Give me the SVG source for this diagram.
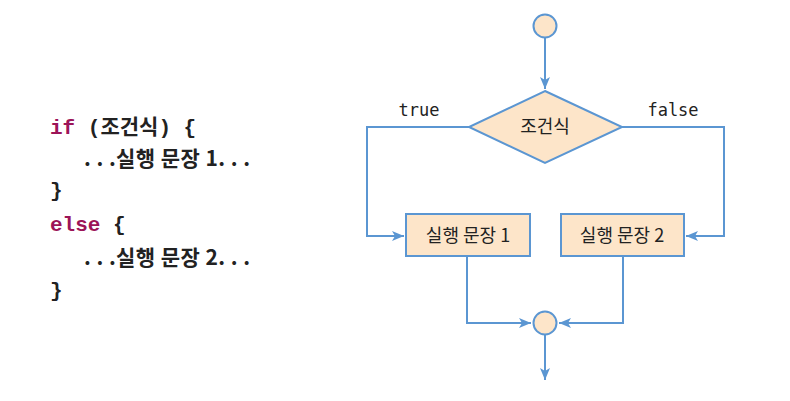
<svg xmlns="http://www.w3.org/2000/svg" width="790" height="401" viewBox="0 0 790 401">
<style>
.code{font-family:"Liberation Mono","Noto Sans CJK KR",monospace;font-size:21px;font-weight:bold;fill:#222}
.kr{font-family:"Noto Sans CJK KR","Noto Sans",sans-serif;font-size:21px;font-weight:bold;fill:#222}
.kw{fill:#9c1458}
.node{fill:#fde5c9;stroke:#5b96d2;stroke-width:2}
.lbl{font-family:"Noto Sans CJK KR","Noto Sans",sans-serif;font-size:18px;fill:#222;text-anchor:middle}
.mono{font-family:"DejaVu Sans Mono","Liberation Mono",monospace;font-size:17px;fill:#222}
.edge{fill:none;stroke:#5b96d2;stroke-width:2}
</style>
<defs>
<marker id="ah" viewBox="0 0 12 10" refX="12" refY="5" markerWidth="12" markerHeight="10" markerUnits="userSpaceOnUse" orient="auto">
<path d="M0,0 L12,5 L0,10 L3,5 Z" fill="#5b96d2"/>
</marker>
</defs>
<g id="code">
<text class="code" x="50" y="134"><tspan class="kw">if</tspan> (조건식) {</text>
<text class="kr" x="84" y="166" textLength="166">. . .실행 문장 1. . .</text>
<text class="code" x="50" y="197">}</text>
<text class="code" x="50" y="231"><tspan class="kw">else</tspan> {</text>
<text class="kr" x="84" y="265" textLength="166">. . .실행 문장 2. . .</text>
<text class="code" x="50" y="297">}</text>
</g>
<g id="connectors">
<path class="edge" d="M545,38 V89" marker-end="url(#ah)"/>
<path class="edge" d="M469,127 H367 V236 H404" marker-end="url(#ah)"/>
<path class="edge" d="M622,127 H724 V236 H686" marker-end="url(#ah)"/>
<path class="edge" d="M467,256 V323 H531" marker-end="url(#ah)"/>
<path class="edge" d="M623,256 V323 H559" marker-end="url(#ah)"/>
<path class="edge" d="M545,335 V380" marker-end="url(#ah)"/>
<text class="mono" x="419" y="116" text-anchor="middle">true</text>
<text class="mono" x="673" y="116" text-anchor="middle">false</text>
</g>
<g id="start"><circle class="node" cx="545" cy="26" r="11.5"/></g>
<g id="cond">
<polygon class="node" points="545,91 622,127 545,163 469,127"/>
<text class="lbl" x="545" y="133">조건식</text>
</g>
<g id="stmt1">
<rect class="node" x="406" y="214" width="124" height="42"/>
<text class="lbl" x="468" y="242">실행 문장 1</text>
</g>
<g id="stmt2">
<rect class="node" x="561" y="214" width="123" height="42"/>
<text class="lbl" x="622" y="242">실행 문장 2</text>
</g>
<g id="end"><circle class="node" cx="545" cy="323" r="11.5"/></g>
</svg>
